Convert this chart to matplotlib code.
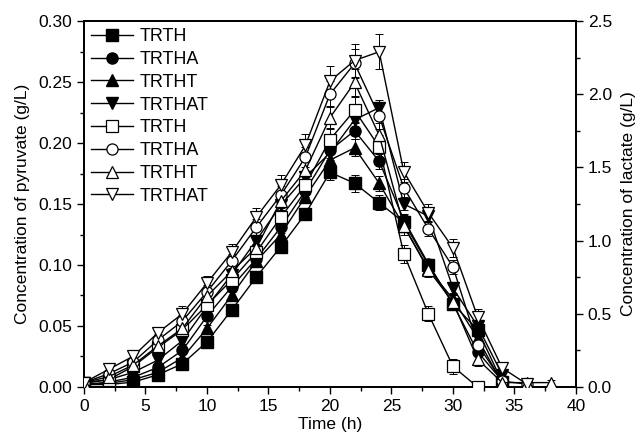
import matplotlib
matplotlib.use("Agg")
import matplotlib.pyplot as plt
from matplotlib.ticker import MultipleLocator

plt.rcParams['font.family'] = ['Liberation Sans', 'DejaVu Sans']

# ---- data ----
labels = ["TRTH", "TRTHA", "TRTHT", "TRTHAT"]

# pyruvate (g/L), filled markers, left axis
t_pyr = [0, 2, 4, 6, 8, 10, 12, 14, 16, 18, 20, 22, 24, 26, 28, 30, 32, 34]
pyr_trth   = [0.002, 0.002, 0.004, 0.010, 0.019, 0.037, 0.063, 0.090, 0.115, 0.142, 0.176, 0.167, 0.151, 0.135, 0.100, 0.068, 0.047, 0.004]
pyr_trtha  = [0.002, 0.004, 0.008, 0.016, 0.030, 0.058, 0.082, 0.105, 0.131, 0.161, 0.194, 0.210, 0.185, 0.137, 0.101, 0.068, 0.029, 0.005]
pyr_trtht  = [0.002, 0.003, 0.006, 0.012, 0.024, 0.048, 0.075, 0.103, 0.125, 0.156, 0.186, 0.196, 0.167, 0.132, 0.097, 0.072, 0.040, 0.003]
pyr_trthat = [0.003, 0.006, 0.012, 0.022, 0.038, 0.066, 0.092, 0.120, 0.149, 0.172, 0.192, 0.219, 0.229, 0.150, 0.140, 0.081, 0.050, 0.010]
pyr_err_trth   = [0.001, 0.001, 0.002, 0.002, 0.003, 0.003, 0.004, 0.004, 0.005, 0.005, 0.006, 0.007, 0.006, 0.005, 0.004, 0.004, 0.004, 0.002]
pyr_err_trtha  = [0.001, 0.001, 0.002, 0.002, 0.003, 0.003, 0.004, 0.004, 0.005, 0.005, 0.006, 0.007, 0.006, 0.005, 0.004, 0.004, 0.004, 0.002]
pyr_err_trtht  = [0.001, 0.001, 0.002, 0.002, 0.003, 0.003, 0.004, 0.004, 0.005, 0.005, 0.006, 0.007, 0.006, 0.005, 0.004, 0.004, 0.004, 0.002]
pyr_err_trthat = [0.001, 0.001, 0.002, 0.002, 0.003, 0.003, 0.004, 0.004, 0.005, 0.005, 0.006, 0.007, 0.006, 0.005, 0.004, 0.004, 0.004, 0.002]

# lactate (g/L), open markers, right axis
t_lac_trth   = [0, 2, 4, 6, 8, 10, 12, 14, 16, 18, 20, 22, 24, 26, 28, 30, 32]
lac_trth     = [0.03, 0.05, 0.14, 0.27, 0.39, 0.56, 0.73, 0.92, 1.16, 1.38, 1.69, 1.89, 1.64, 0.91, 0.50, 0.14, 0.00]
lac_err_trth = [0.01, 0.02, 0.03, 0.04, 0.04, 0.05, 0.05, 0.06, 0.06, 0.07, 0.08, 0.09, 0.08, 0.06, 0.05, 0.05, 0.01]

t_lac_trtha   = [0, 2, 4, 6, 8, 10, 12, 14, 16, 18, 20, 22, 24, 26, 28, 30, 32, 34, 36]
lac_trtha     = [0.03, 0.09, 0.17, 0.32, 0.45, 0.65, 0.86, 1.09, 1.31, 1.57, 2.00, 2.21, 1.85, 1.36, 1.08, 0.82, 0.29, 0.04, 0.02]
lac_err_trtha = [0.01, 0.02, 0.03, 0.04, 0.04, 0.05, 0.05, 0.06, 0.06, 0.07, 0.09, 0.10, 0.09, 0.06, 0.05, 0.05, 0.05, 0.02, 0.02]

t_lac_trtht   = [0, 2, 4, 6, 8, 10, 12, 14, 16, 18, 20, 22, 24, 26, 28, 30, 32, 34, 36, 38]
lac_trtht     = [0.03, 0.07, 0.15, 0.28, 0.40, 0.62, 0.79, 0.95, 1.27, 1.48, 1.84, 2.08, 1.72, 1.10, 0.80, 0.58, 0.19, 0.03, 0.03, 0.03]
lac_err_trtht = [0.01, 0.02, 0.03, 0.04, 0.04, 0.05, 0.05, 0.06, 0.06, 0.07, 0.08, 0.09, 0.08, 0.06, 0.05, 0.05, 0.05, 0.02, 0.02, 0.02]

t_lac_trthat   = [0, 2, 4, 6, 8, 10, 12, 14, 16, 18, 20, 22, 24, 26, 28, 30, 32, 34, 36]
lac_trthat     = [0.03, 0.12, 0.21, 0.37, 0.50, 0.71, 0.92, 1.16, 1.38, 1.65, 2.09, 2.23, 2.29, 1.47, 1.19, 0.95, 0.48, 0.13, 0.02]
lac_err_trthat = [0.01, 0.02, 0.03, 0.04, 0.05, 0.05, 0.06, 0.06, 0.07, 0.08, 0.10, 0.11, 0.12, 0.07, 0.06, 0.06, 0.05, 0.03, 0.02]

markers = ["s", "o", "^", "v"]

fig = plt.figure(figsize=(6.41, 4.36), dpi=100)
ax = fig.add_axes([0.131, 0.1124, 0.7676, 0.8394])
ax2 = ax.twinx()

pyr_series = [(pyr_trth, pyr_err_trth), (pyr_trtha, pyr_err_trtha),
              (pyr_trtht, pyr_err_trtht), (pyr_trthat, pyr_err_trthat)]
lac_series = [(t_lac_trth, lac_trth, lac_err_trth), (t_lac_trtha, lac_trtha, lac_err_trtha),
              (t_lac_trtht, lac_trtht, lac_err_trtht), (t_lac_trthat, lac_trthat, lac_err_trthat)]

handles = []
for (y, e), m, lab in zip(pyr_series, markers, labels):
    ax.errorbar(t_pyr, y, yerr=e, fmt='none', ecolor='black', elinewidth=0.7,
                capsize=3, capthick=0.7, zorder=2)
    h, = ax.plot(t_pyr, y, color='black', lw=1.0, marker=m, markersize=8,
                 markerfacecolor='black', markeredgecolor='black', label=lab, zorder=3)
    handles.append(h)

for (tt, y, e), m, lab in zip(lac_series, markers, labels):
    ax2.errorbar(tt, y, yerr=e, fmt='none', ecolor='black', elinewidth=0.7,
                 capsize=3, capthick=0.7, zorder=2)
    h, = ax2.plot(tt, y, color='black', lw=1.0, marker=m, markersize=8,
                  markerfacecolor='white', markeredgecolor='black',
                  markeredgewidth=0.9, label=lab, zorder=3)
    handles.append(h)

ax.set_xlim(0, 40)
ax.set_ylim(0, 0.30)
ax2.set_ylim(0, 2.5)

ax.xaxis.set_major_locator(MultipleLocator(5))
ax.xaxis.set_minor_locator(MultipleLocator(2.5))
ax.yaxis.set_major_locator(MultipleLocator(0.05))
ax.yaxis.set_minor_locator(MultipleLocator(0.025))
ax2.yaxis.set_major_locator(MultipleLocator(0.5))
ax2.yaxis.set_minor_locator(MultipleLocator(0.25))

ax.yaxis.set_major_formatter(plt.FormatStrFormatter('%.2f'))
ax2.yaxis.set_major_formatter(plt.FormatStrFormatter('%.1f'))

for a in (ax, ax2):
    a.tick_params(which='major', direction='out', length=5, width=1.0, labelsize=12.5)
    a.tick_params(which='minor', direction='out', length=3, width=1.0)
    for s in a.spines.values():
        s.set_linewidth(1.3)

ax.set_xlabel("Time (h)", fontsize=12.5, labelpad=2)
ax.set_ylabel("Concentration of pyruvate (g/L)", fontsize=12.5, labelpad=6)
ax2.set_ylabel("Concentration of lactate (g/L)", fontsize=12.5, labelpad=6)

leg = ax2.legend(handles=handles, loc='upper left', frameon=False, fontsize=13,
                 handlelength=2.3, handletextpad=0.4, labelspacing=0.32,
                 borderaxespad=0.2, borderpad=0.2, bbox_to_anchor=(0.0, 1.0))

fig.savefig("out.png", dpi=100)
